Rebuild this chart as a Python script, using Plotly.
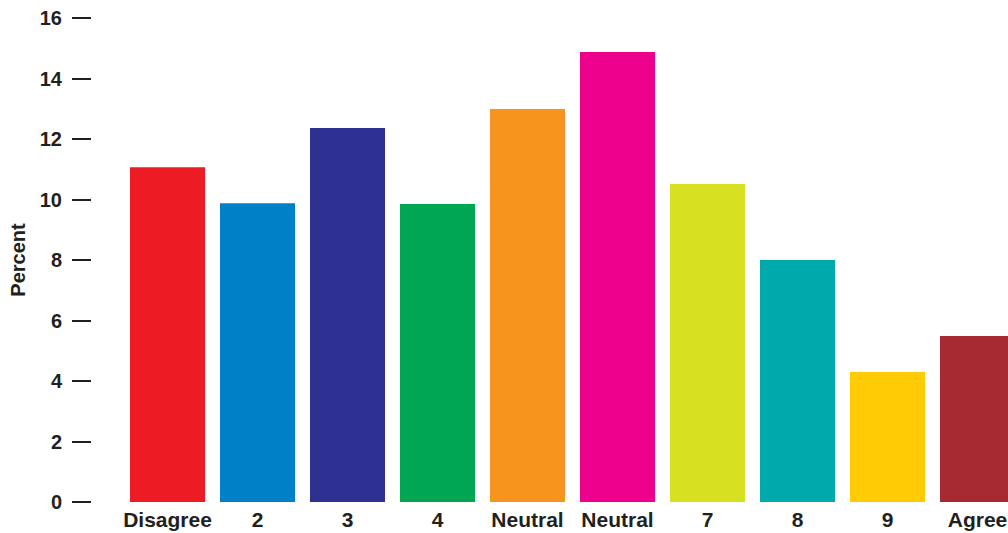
import plotly.graph_objects as go

categories = ["Disagree", "2", "3", "4", "Neutral", "Neutral", "7", "8", "9", "Agree"]
values = [11.07, 9.88, 12.36, 9.85, 12.99, 14.88, 10.51, 8.0, 4.3, 5.49]
colors = ["#ED1C24", "#0080C6", "#2E3192", "#00A651", "#F7941D",
          "#EC008C", "#D7E021", "#00A9AC", "#FFCB05", "#A72A33"]
y_ticks = [0, 2, 4, 6, 8, 10, 12, 14, 16]

positions = list(range(len(categories)))

fig = go.Figure(go.Bar(x=positions, y=values, marker=dict(color=colors, line=dict(width=0))))

font_family = "Liberation Sans, Arial, Helvetica, sans-serif"
fig.update_layout(
    width=1008, height=533,
    margin=dict(l=92, r=0, t=18, b=31),
    paper_bgcolor="white", plot_bgcolor="white",
    bargap=15/90,
    showlegend=False,
    font=dict(family=font_family, color="#231F20"),
)
fig.update_xaxes(
    tickmode="array", tickvals=positions, ticktext=categories,
    range=[-0.839, 9.339], showgrid=False, zeroline=False, showline=False,
    ticks="", tickfont=dict(size=21, family=font_family, weight="bold", color="#231F20"),
    ticklabelstandoff=3,
)
fig.update_yaxes(
    tickmode="array", tickvals=y_ticks, ticktext=[str(v) for v in y_ticks],
    range=[0, 16], showgrid=False, zeroline=False, showline=False,
    ticks="outside", ticklen=19, tickwidth=1.5, tickcolor="#231F20",
    tickfont=dict(size=20, family=font_family, weight="bold", color="#231F20"),
    ticklabelstandoff=6,
    title=dict(text="Percent", font=dict(size=20, family=font_family, weight="bold", color="#231F20"), standoff=8),
)

fig.write_html("out.html")
